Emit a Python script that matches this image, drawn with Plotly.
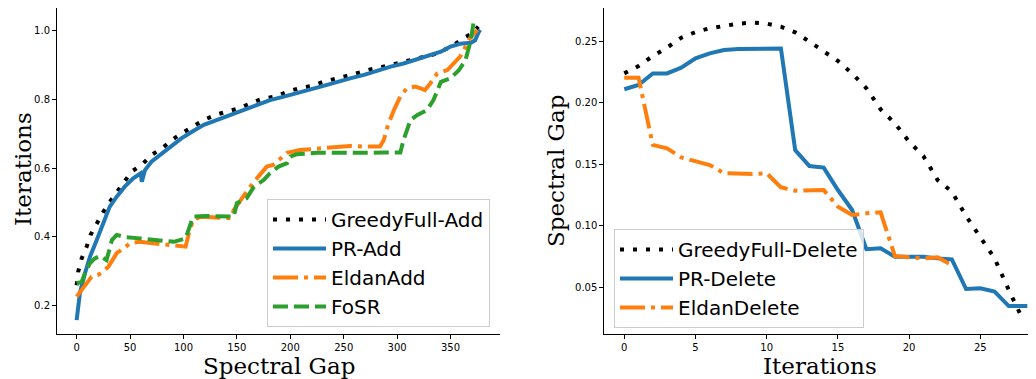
import plotly.graph_objects as go

# ---------------- Left panel data ----------------
greedy_add_x = [0, 1.5, 4.7, 9.4, 13, 18.8, 25, 30.6, 37.5, 44, 51.6, 61, 70, 80, 89, 98, 108, 119, 130, 141,
                151.6, 162.5, 173, 186, 197, 208, 220, 231, 242, 253, 264, 275, 287.5, 298, 309, 322, 333,
                344, 353, 362, 370, 376]
greedy_add_y = [0.26, 0.30, 0.338, 0.372, 0.406, 0.44, 0.473, 0.50, 0.531, 0.56, 0.59, 0.609, 0.638, 0.657,
                0.681, 0.70, 0.72, 0.739, 0.754, 0.763, 0.773, 0.787, 0.80, 0.807, 0.821, 0.831, 0.838, 0.85,
                0.86, 0.867, 0.876, 0.886, 0.894, 0.903, 0.91, 0.92, 0.928, 0.942, 0.957, 0.976, 0.99, 1.01]

pr_add_x = [0, 3, 7.8, 12.5, 18.8, 25, 31, 37.5, 45, 53, 58, 60, 61, 62, 64, 70, 78, 87.5, 98, 108, 119, 131,
            144, 156, 169, 181, 194, 206, 219, 231, 244, 256, 269, 281, 294, 306, 319, 331, 341, 350, 359,
            369, 373, 376.5, 378]
pr_add_y = [0.159, 0.237, 0.295, 0.343, 0.391, 0.44, 0.488, 0.517, 0.546, 0.57, 0.58, 0.585, 0.56, 0.57,
            0.594, 0.618, 0.638, 0.662, 0.686, 0.705, 0.725, 0.739, 0.754, 0.768, 0.783, 0.797, 0.807, 0.816,
            0.828, 0.838, 0.85, 0.86, 0.87, 0.882, 0.894, 0.903, 0.915, 0.925, 0.937, 0.952, 0.96, 0.963,
            0.97, 0.995, 1.0]

eldan_add_x = [0, 4.7, 9.4, 14, 20, 25, 29.7, 33, 37.5, 44, 50, 59, 72, 84, 97, 102, 105, 109, 116, 131, 144,
               147, 153, 159, 166, 173, 178, 184, 192, 197, 209, 225, 241, 256, 272, 284, 287.5, 291, 297, 303,
               309, 317, 322, 326, 331, 337.5, 347, 359, 369, 375]
eldan_add_y = [0.227, 0.246, 0.266, 0.285, 0.29, 0.30, 0.314, 0.333, 0.353, 0.367, 0.382, 0.386, 0.382, 0.377,
               0.374, 0.372, 0.41, 0.449, 0.459, 0.457, 0.454, 0.478, 0.507, 0.531, 0.56, 0.585, 0.604, 0.609,
               0.633, 0.644, 0.652, 0.657, 0.662, 0.664, 0.662, 0.662, 0.681, 0.72, 0.768, 0.807, 0.831, 0.836,
               0.831, 0.826, 0.845, 0.874, 0.884, 0.923, 0.98, 1.0]

fosr_x = [0, 4.7, 7.8, 12.5, 17, 22, 28, 33, 37.5, 45, 59, 75, 91, 102, 105, 109, 122, 134, 147, 150, 159, 166,
          175, 181, 189, 197, 200, 206, 225, 241, 256, 272, 287.5, 303, 306, 312.5, 319, 328, 334, 341, 350,
          358, 364, 369, 372]
fosr_y = [0.266, 0.27, 0.295, 0.324, 0.338, 0.345, 0.333, 0.391, 0.406, 0.40, 0.396, 0.391, 0.386, 0.396, 0.42,
          0.459, 0.461, 0.459, 0.459, 0.498, 0.512, 0.546, 0.565, 0.585, 0.604, 0.614, 0.633, 0.64, 0.644,
          0.644, 0.643, 0.644, 0.645, 0.645, 0.681, 0.739, 0.754, 0.768, 0.797, 0.85, 0.86, 0.884, 0.913,
          0.971, 1.03]

add_xticks = [0, 50, 100, 150, 200, 250, 300, 350]
add_yticks = [0.2, 0.4, 0.6, 0.8, 1.0]

# ---------------- Right panel data ----------------
iters_greedy = list(range(29))
greedy_del = [0.2237, 0.2297, 0.2378, 0.2446, 0.2527, 0.2573, 0.2603, 0.2624, 0.2641, 0.2649, 0.2641, 0.2616,
              0.2570, 0.2495, 0.2413, 0.2338, 0.2237, 0.2116, 0.1945, 0.1832, 0.1683, 0.1566, 0.1371, 0.1277,
              0.1079, 0.0911, 0.0735, 0.0478, 0.0235]
iters_pr = [0, 1, 2, 3, 4, 5, 6, 7, 8, 9, 10, 11, 12, 13, 14, 15, 16, 17, 18, 19, 20, 21, 22, 23, 24, 25, 26,
            27, 28.3]
pr_del = [0.2108, 0.2143, 0.2237, 0.2237, 0.2283, 0.2359, 0.2400, 0.2427, 0.2435, 0.2438, 0.2440, 0.2440,
          0.1615, 0.1485, 0.1472, 0.1290, 0.1128, 0.0809, 0.0817, 0.0749, 0.0749, 0.0749, 0.0735, 0.0727,
          0.0486, 0.0492, 0.0465, 0.0348, 0.0348]
iters_eldan = list(range(24))
eldan_del = [0.2202, 0.2202, 0.1656, 0.1629, 0.1555, 0.1520, 0.1493, 0.1426, 0.1420, 0.1420, 0.1426, 0.1312,
             0.1285, 0.1290, 0.1290, 0.1155, 0.1087, 0.1101, 0.1109, 0.0754, 0.0744, 0.0735, 0.0744, 0.0681]

del_xticks = [0, 5, 10, 15, 20, 25]
del_yticks = [0.05, 0.10, 0.15, 0.20, 0.25]

BLUE = "#1f77b4"
ORANGE = "#ff7f0e"
GREEN = "#2ca02c"
DOT = "4px,9px"
DASH = "15px,6px"
DASHDOT = "25px,6px,4px,6px"

fig = go.Figure()

fig.add_trace(go.Scatter(x=greedy_add_x, y=greedy_add_y, mode="lines", name="GreedyFull-Add",
                         line=dict(color="black", width=4, dash=DOT), legend="legend", legendgroup="a1"))
fig.add_trace(go.Scatter(x=pr_add_x, y=pr_add_y, mode="lines", name="PR-Add",
                         line=dict(color=BLUE, width=4), legend="legend", legendgroup="a2"))
fig.add_trace(go.Scatter(x=eldan_add_x, y=eldan_add_y, mode="lines", name="EldanAdd",
                         line=dict(color=ORANGE, width=4, dash=DASHDOT), legend="legend", legendgroup="a3"))
fig.add_trace(go.Scatter(x=fosr_x, y=fosr_y, mode="lines", name="FoSR",
                         line=dict(color=GREEN, width=4, dash=DASH), legend="legend", legendgroup="a4"))

fig.add_trace(go.Scatter(x=iters_greedy, y=greedy_del, mode="lines", name="GreedyFull-Delete",
                         line=dict(color="black", width=4, dash=DOT), xaxis="x2", yaxis="y2",
                         legend="legend2", legendgroup="d1"))
fig.add_trace(go.Scatter(x=iters_pr, y=pr_del, mode="lines", name="PR-Delete",
                         line=dict(color=BLUE, width=4), xaxis="x2", yaxis="y2",
                         legend="legend2", legendgroup="d2"))
fig.add_trace(go.Scatter(x=iters_eldan, y=eldan_del, mode="lines", name="EldanDelete",
                         line=dict(color=ORANGE, width=4, dash=DASHDOT), xaxis="x2", yaxis="y2",
                         legend="legend2", legendgroup="d3"))

# page has an 8px body margin: the figure is offset by 8px, so size/positions compensate
OFF = 8
W, H = 1036 - OFF, 379 - OFF


def px(x):
    return (x - OFF) / W


def py(y):
    return min(1.0, 1 - (y - OFF) / H)


tickfont = dict(family="DejaVu Sans", size=10, color="black")
axis_common = dict(showgrid=False, zeroline=False, showline=True, linecolor="black", linewidth=1,
                   ticks="outside", ticklen=4, tickwidth=1, tickcolor="black", tickfont=tickfont)

legend_common = dict(font=dict(family="DejaVu Sans", size=20, color="black"),
                     bgcolor="rgba(255,255,255,0.8)", bordercolor="#cccccc", borderwidth=1,
                     xanchor="left", yanchor="top", tracegroupgap=0, itemwidth=53)

fig.update_layout(
    width=W, height=H,
    margin=dict(l=0, r=0, t=0, b=0),
    plot_bgcolor="white", paper_bgcolor="white",
    xaxis=dict(domain=[px(57), px(500)], range=[-18.4, 396.3], tickvals=add_xticks, **axis_common),
    yaxis=dict(domain=[py(334), py(8)], range=[0.1188, 1.0638], tickvals=add_yticks,
               tickformat=".1f", **axis_common),
    xaxis2=dict(domain=[px(604.3), 1.0], range=[-1.404, 28.91], tickvals=del_xticks, anchor="y2",
                **axis_common),
    yaxis2=dict(domain=[py(334), py(8)], range=[0.0121, 0.2768], tickvals=del_yticks,
                tickformat=".2f", anchor="x2", **axis_common),
    legend=dict(x=px(267), y=py(199), **legend_common),
    legend2=dict(x=px(614), y=py(229), **legend_common),
)

title_font = dict(family="DejaVu Serif", size=23, color="black")
ann = [
    dict(text="Spectral Gap", x=px(278.5), y=py(366), xanchor="center", yanchor="middle"),
    dict(text="Iterations", x=px(820), y=py(366), xanchor="center", yanchor="middle"),
    dict(text="Iterations", x=px(23), y=py(169), xanchor="center", yanchor="middle", textangle=-90),
    dict(text="Spectral Gap", x=px(556), y=py(171), xanchor="center", yanchor="middle", textangle=-90),
]
for a in ann:
    fig.add_annotation(xref="paper", yref="paper", showarrow=False, font=title_font, **a)

fig.write_html("out.html")
